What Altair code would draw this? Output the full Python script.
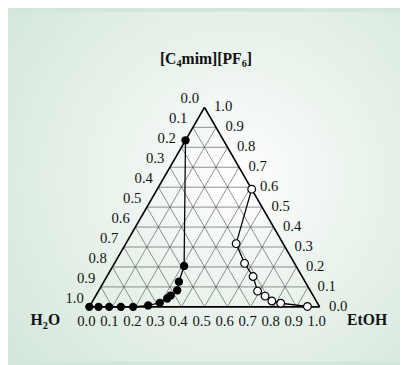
import math
import altair as alt
import pandas as pd

# ---- data (mole fractions) ----
black_etoh = [0.00, 0.04, 0.086, 0.137, 0.19, 0.252, 0.296, 0.317, 0.325, 0.34, 0.326, 0.309, 0.0]
black_il   = [0.00, 0.00, 0.00, 0.00, 0.00, 0.007, 0.02, 0.042, 0.056, 0.083, 0.126, 0.205, 0.835]

open_etoh = [0.41, 0.479, 0.565, 0.635, 0.691, 0.736, 0.778, 0.822, 0.946]
open_il   = [0.59, 0.317, 0.218, 0.152, 0.079, 0.054, 0.029, 0.018, 0.002]

tick_vals = [0.0, 0.1, 0.2, 0.3, 0.4, 0.5, 0.6, 0.7, 0.8, 0.9, 1.0]
tick_text = ["0.0", "0.1", "0.2", "0.3", "0.4", "0.5", "0.6", "0.7", "0.8", "0.9", "1.0"]

S3 = math.sqrt(3) / 2


def tern(e, c):
    return e + c / 2, c * S3


W, H = 400, 357
xscale = alt.Scale(domain=[-0.35319, 1.34894], nice=False, zero=False)
yscale = alt.Scale(domain=[-0.23702, 1.28213], nice=False, zero=False)


def enc_xy(extra=None):
    d = dict(
        x=alt.X("x:Q", scale=xscale, axis=None),
        y=alt.Y("y:Q", scale=yscale, axis=None),
    )
    if extra:
        d.update(extra)
    return d


# ---- background ----
bg = alt.Chart(pd.DataFrame({"a": [0]})).mark_rect(
    fill=alt.RadialGradient(
        gradient="radial",
        stops=[alt.GradientStop(color="#ffffff", offset=0),
               alt.GradientStop(color="#eef5f0", offset=0.35),
               alt.GradientStop(color="#d3e6da", offset=1)],
        x1=0.58, y1=0.48, x2=0.58, y2=0.48, r1=0, r2=0.75,
    )
).encode(x=alt.value(0), x2=alt.value(W), y=alt.value(0), y2=alt.value(H))

# ---- grid ----
rows = []
for k in range(1, 10):
    v = k / 10
    x1, y1 = tern(0, v)
    x2, y2 = tern(1 - v, v)
    rows.append((x1, y1, x2, y2))
    x1, y1 = tern(v, 0)
    x2, y2 = tern(v, 1 - v)
    rows.append((x1, y1, x2, y2))
    x1, y1 = tern(1 - v, 0)
    x2, y2 = tern(0, 1 - v)
    rows.append((x1, y1, x2, y2))
grid_df = pd.DataFrame(rows, columns=["x", "y", "x2", "y2"])
grid = alt.Chart(grid_df).mark_rule(color="#444444", strokeWidth=0.6).encode(
    **enc_xy({"x2": "x2:Q", "y2": "y2:Q"})
)

corners = [tern(0, 0), tern(1, 0), tern(0, 1)]
edge_rows = []
for i in range(3):
    a, b = corners[i], corners[(i + 1) % 3]
    edge_rows.append((a[0], a[1], b[0], b[1]))
edge_df = pd.DataFrame(edge_rows, columns=["x", "y", "x2", "y2"])
edges = alt.Chart(edge_df).mark_rule(color="black", strokeWidth=1.7).encode(
    **enc_xy({"x2": "x2:Q", "y2": "y2:Q"})
)

# ---- series ----
bdf = pd.DataFrame({"e": black_etoh, "c": black_il})
bdf["x"], bdf["y"] = zip(*[tern(e, c) for e, c in zip(bdf.e, bdf.c)])
bdf["i"] = range(len(bdf))
odf = pd.DataFrame({"e": open_etoh, "c": open_il})
odf["x"], odf["y"] = zip(*[tern(e, c) for e, c in zip(odf.e, odf.c)])
odf["i"] = range(len(odf))

bline = alt.Chart(bdf).mark_line(color="black", strokeWidth=1.3).encode(
    **enc_xy({"order": "i:Q"})
)
bpts = alt.Chart(bdf).mark_point(
    shape="circle", filled=True, color="black", size=72, opacity=1
).encode(**enc_xy())
oline = alt.Chart(odf).mark_line(color="black", strokeWidth=1.3).encode(
    **enc_xy({"order": "i:Q"})
)
opts = alt.Chart(odf).mark_point(
    shape="circle", filled=True, fill="white", stroke="black", strokeWidth=1.2,
    size=62, opacity=1
).encode(**enc_xy())

# ---- tick labels ----
FONT = "Liberation Serif"
bot = pd.DataFrame({"t": tick_text})
bot["x"], bot["y"] = zip(*[tern(v, 0) for v in tick_vals])
left = pd.DataFrame({"t": tick_text})
left["x"], left["y"] = zip(*[tern(0, 1 - v) for v in tick_vals])
right = pd.DataFrame({"t": tick_text})
right["x"], right["y"] = zip(*[tern(1 - v, v) for v in tick_vals])

tsize = 15
bot_t = alt.Chart(bot).mark_text(font=FONT, fontSize=tsize, color="#111", dx=-3, dy=15,
                                 align="center", baseline="middle").encode(**enc_xy({"text": "t:N"}))
left_t = alt.Chart(left).mark_text(font=FONT, fontSize=tsize, color="#111", dx=-15, dy=-9,
                                   align="center", baseline="middle").encode(**enc_xy({"text": "t:N"}))
right_t = alt.Chart(right).mark_text(font=FONT, fontSize=tsize, color="#111", dx=19, dy=-1,
                                     align="center", baseline="middle").encode(**enc_xy({"text": "t:N"}))

# ---- titles with subscripts ----
WID = {"[": 333, "C": 722, "m": 833, "i": 278, "]": 333, "P": 611, "F": 611,
       "H": 778, "O": 778, "E": 667, "t": 333, "2": 500, "4": 500, "6": 500}
BIG, SUB = 16, 10.5


def title_pieces(pieces, x0, yb):
    layers = []
    x = x0
    for s, sub in pieces:
        fs = SUB if sub else BIG
        layers.append(
            alt.Chart(pd.DataFrame({"t": [s]})).mark_text(
                font=FONT, fontWeight="bold", fontSize=fs, color="#111",
                align="left", baseline="alphabetic", dy=4 if sub else 0,
            ).encode(x=alt.value(x), y=alt.value(yb), text="t:N")
        )
        x += sum(WID.get(ch, 500) for ch in s) * fs / 1000
    return layers


titles = []
titles += title_pieces([("[C", False), ("4", True), ("mim][PF", False), ("6", True), ("]", False)], 155, 53)
titles += title_pieces([("H", False), ("2", True), ("O", False)], 23, 320)
titles += title_pieces([("EtOH", False)], 346, 320)

chart = alt.layer(
    bg, grid, edges, bline, oline, bpts, opts, bot_t, left_t, right_t, *titles
).properties(
    width=W, height=H, autosize=alt.AutoSizeParams(type="none"), padding=0,
    background="#d3e6da",
).configure_view(stroke="transparent")

chart.save("out.html", embed_options={"renderer": "svg", "actions": False})
